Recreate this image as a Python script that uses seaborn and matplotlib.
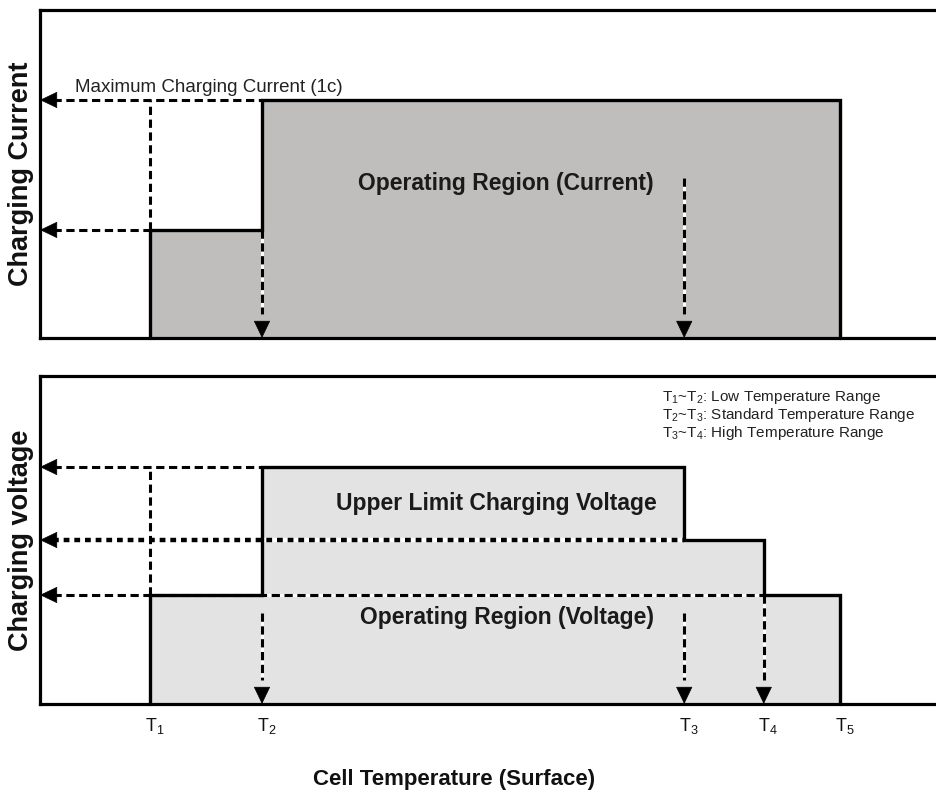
import matplotlib
matplotlib.use("Agg")
import matplotlib.pyplot as plt
from matplotlib import font_manager
import numpy as np
import pandas as pd
import seaborn as sns

# ---------------- data ----------------
temp_labels = ["T$_1$", "T$_2$", "T$_3$", "T$_4$", "T$_5$"]
temp_pos = [1.0, 2.0, 5.77, 6.48, 7.16]
current_steps = [0.454, 1.0, 1.0, 1.0]      # level on T1-T2, T2-T3, T3-T4, T4-T5
voltage_steps = [0.46, 1.0, 0.692, 0.46]    # level on T1-T2, T2-T3, T3-T4, T4-T5
current_marks = [0.454, 1.0]                 # dashed guide levels (current)
voltage_marks = [0.46, 0.692, 1.0]           # dashed guide levels (voltage)
range_pairs = [("1", "2"), ("2", "3"), ("3", "4")]
range_names = ["Low Temperature Range", "Standard Temperature Range", "High Temperature Range"]
max_current_label = "Maximum Charging Current (1c)"
current_region_label = "Operating Region (Current)"
upper_voltage_label = "Upper Limit Charging Voltage"
voltage_region_label = "Operating Region (Voltage)"
xlabel = "Cell Temperature (Surface)"
ylabel_top = "Charging Current"
ylabel_bot = "Charging voltage"

# ---------------- style ----------------
sns.set_theme(style="white")
installed = {f.name for f in font_manager.fontManager.ttflist}
SANS = "Liberation Sans" if "Liberation Sans" in installed else "DejaVu Sans"
NARROW = "Liberation Sans Narrow" if "Liberation Sans Narrow" in installed else SANS
plt.rcParams["font.family"] = [SANS, "DejaVu Sans"]
plt.rcParams["mathtext.fontset"] = "custom"
plt.rcParams["mathtext.rm"] = NARROW
plt.rcParams["mathtext.it"] = NARROW
plt.rcParams["mathtext.default"] = "rm"

W, H = 937, 797
fig = plt.figure(figsize=(W / 100, H / 100), dpi=100)
fig.patch.set_facecolor("white")

left = 40 / W
width = 1 - left
ax_top = fig.add_axes([left, (H - 338) / H, width, 328 / H])
ax_bot = fig.add_axes([left, (H - 704) / H, width, 328 / H])

XMIN = temp_pos[0] - (150 - 40) / 112
XMAX = temp_pos[0] + (937 - 150) / 112

SPINE_LW = 2.3
DASH = (0, (2.7, 1.5))
DOT = (0, (1.3, 1.1))


def setup(ax, ytop):
    ax.set_xlim(XMIN, XMAX)
    ax.set_ylim(0, ytop)
    ax.set_facecolor("white")
    for s in ["left", "top", "bottom"]:
        ax.spines[s].set_linewidth(SPINE_LW)
        ax.spines[s].set_color("black")
    ax.spines["right"].set_visible(False)
    ax.set_yticks([])
    ax.tick_params(axis="x", length=0)


def region(ax, steps, color):
    ys = steps + [steps[-1]]
    ax.fill_between(temp_pos, ys, step="post", color=color, lw=0, zorder=1)
    df = pd.DataFrame({
        "x": [temp_pos[0]] + temp_pos + [temp_pos[-1]],
        "y": [0.0] + steps + [steps[-1], 0.0],
    })
    sns.lineplot(data=df, x="x", y="y", estimator=None, sort=False,
                 drawstyle="steps-post", color="black", lw=2.4, ax=ax,
                 legend=False, zorder=6, clip_on=False,
                 solid_joinstyle="miter")


def dashed(ax, xs, ys, ls=DASH, lw=2.2):
    ax.plot(xs, ys, color="white", lw=lw, solid_capstyle="butt", zorder=3)
    ax.plot(xs, ys, color="black", lw=lw, ls=ls, dash_capstyle="butt", zorder=4)


def head(ax, xy, direction):
    off = {"left": (11, 0), "down": (0, 11)}[direction]
    ax.annotate("", xy=xy, xytext=off, textcoords="offset points",
                arrowprops=dict(arrowstyle="-|>,head_length=1.15,head_width=0.55",
                                mutation_scale=10, fc="black", ec="black", lw=0.5,
                                shrinkA=0, shrinkB=0), zorder=7)


def left_arrow(ax, level, x_end, ls=DASH, lw=2.2):
    dashed(ax, [XMIN + 0.12, x_end], [level, level], ls=ls, lw=lw)
    head(ax, (XMIN, level), "left")


def down_arrow(ax, x, y_start):
    dashed(ax, [x, x], [y_start, 0.1])
    head(ax, (x, 0), "down")


def labels(ax, ytext):
    ax.set_xlabel("")
    ax.set_ylabel(ytext, fontsize=19.5, fontweight="bold", labelpad=4,
                  color="#111111")
    ax.yaxis.label.set_visible(True)


# ---------------- top panel: current ----------------
setup(ax_top, 1.378)
ax_top.set_xticks([])
region(ax_top, current_steps, "#bfbebd")
low_c, max_c = current_marks
left_arrow(ax_top, low_c, temp_pos[0])
left_arrow(ax_top, max_c, temp_pos[1])
dashed(ax_top, [temp_pos[0], temp_pos[0]], [low_c, max_c])
down_arrow(ax_top, temp_pos[1], low_c)
down_arrow(ax_top, temp_pos[2], 0.672)
ax_top.text(XMIN + 0.31, max_c + 0.015, max_current_label, fontsize=13.5,
            family=[NARROW, "DejaVu Sans"], ha="left", va="bottom", color="#222222",
            zorder=8)
ax_top.text(4.18, 0.651, current_region_label, fontsize=16.5, fontweight="bold",
            ha="center", va="center", color="#1a1a1a", zorder=8)
labels(ax_top, ylabel_top)

# ---------------- bottom panel: voltage ----------------
setup(ax_bot, 1.384)
region(ax_bot, voltage_steps, "#e3e3e3")
low_v, mid_v, up_v = voltage_marks
left_arrow(ax_bot, up_v, temp_pos[1])
left_arrow(ax_bot, low_v, temp_pos[3])
left_arrow(ax_bot, mid_v, temp_pos[2], ls=DOT, lw=3.2)
dashed(ax_bot, [temp_pos[0], temp_pos[0]], [low_v, up_v])
down_arrow(ax_bot, temp_pos[1], 0.384)
down_arrow(ax_bot, temp_pos[2], 0.384)
down_arrow(ax_bot, temp_pos[3], low_v)
ax_bot.text(4.09, 0.848, upper_voltage_label, fontsize=16.5, fontweight="bold",
            ha="center", va="center", color="#1a1a1a", zorder=8)
ax_bot.text(4.19, 0.363, voltage_region_label, fontsize=16.5, fontweight="bold",
            ha="center", va="center", color="#1a1a1a", zorder=8)
labels(ax_bot, ylabel_bot)
ax_bot.set_xticks([p + 0.04 for p in temp_pos], temp_labels)
for t in ax_bot.get_xticklabels():
    t.set_fontsize(13)
    t.set_color("#111111")
ax_bot.tick_params(axis="x", pad=9)

legend_lines = [rf"$\mathrm{{T}}_{a}$~$\mathrm{{T}}_{b}$: {name}"
                for (a, b), name in zip(range_pairs, range_names)]
fig.text(662 / W, 1 - 389 / H, "\n".join(legend_lines),
         fontsize=11, family=[NARROW, "DejaVu Sans"], ha="left", va="top",
         linespacing=1.0, color="#222222")

fig.text(454 / W, 1 - 780 / H, xlabel, fontsize=16, fontweight="bold",
         family=[NARROW, "DejaVu Sans"], ha="center", va="center", color="#111111")

fig.savefig("out.png", dpi=100, facecolor="white")
